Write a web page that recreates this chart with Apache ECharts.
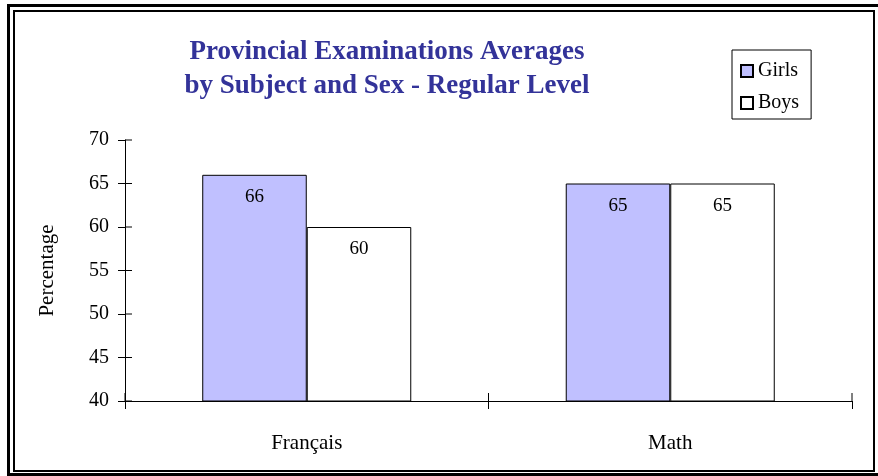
<!DOCTYPE html>
<html>
<head>
<meta charset="utf-8">
<script src="https://cdn.jsdelivr.net/npm/echarts@6/dist/echarts.min.js"></script>
<style>
html, body { margin: 0; padding: 0; background: #fff; }
#main { width: 878px; height: 476px; }
</style>
</head>
<body>
<div id="main"></div>
<script>
var categories = ['Français', 'Math'];
var girls = [66, 65];
var boys = [60, 65];
var yTicks = [40, 45, 50, 55, 60, 65, 70];

var serif = '"Liberation Serif", "Times New Roman", serif';

var chart = echarts.init(document.getElementById('main'));

var option = {
    animation: false,
    backgroundColor: '#fff',
    title: {
        text: 'Provincial Examinations Averages\nby Subject and Sex - Regular Level',
        left: 382,
        top: 30,
        textAlign: 'center',
        textStyle: {
            fontFamily: serif,
            fontSize: 27,
            fontWeight: 'bold',
            color: '#333399',
            lineHeight: 34
        }
    },
    legend: {
        data: ['Girls', 'Boys'],
        orient: 'vertical',
        left: 732,
        top: 50,
        padding: [11, 12, 6, 8],
        itemGap: 12,
        itemWidth: 12,
        itemHeight: 12,
        borderColor: '#000',
        borderWidth: 1,
        borderRadius: 0,
        icon: 'rect',
        textStyle: { fontFamily: serif, fontSize: 20, color: '#000', padding: [0, 0, 0, 0] }
    },
    grid: { left: 125, right: 26, top: 140, bottom: 75 },
    xAxis: {
        type: 'category',
        data: categories,
        axisLine: { lineStyle: { color: '#000', width: 1 } },
        axisTick: { show: true, length: 8, inside: false, lineStyle: { color: '#000' } },
        axisLabel: { fontFamily: serif, fontSize: 21, color: '#000', margin: 32 }
    },
    yAxis: {
        type: 'value',
        min: yTicks[0],
        max: yTicks[yTicks.length - 1],
        interval: 5,
        name: 'Percentage',
        nameLocation: 'middle',
        nameGap: 67,
        nameRotate: 90,
        nameTextStyle: { fontFamily: serif, fontSize: 21, color: '#000' },
        axisLine: { show: true, lineStyle: { color: '#000', width: 1 } },
        axisTick: { show: true, length: 7, lineStyle: { color: '#000' } },
        splitLine: { show: false },
        axisLabel: { fontFamily: serif, fontSize: 20, color: '#000', margin: 16 }
    },
    series: [
        {
            name: 'Girls',
            type: 'bar',
            data: girls,
            barGap: '0%',
            barCategoryGap: '42.5%',
            itemStyle: { color: '#c0c0ff', borderColor: '#000', borderWidth: 1 },
            label: {
                show: true, position: 'insideTop', distance: 13,
                fontFamily: serif, fontSize: 19, color: '#000'
            }
        },
        {
            name: 'Boys',
            type: 'bar',
            data: boys,
            itemStyle: { color: '#fff', borderColor: '#000', borderWidth: 1 },
            label: {
                show: true, position: 'insideTop', distance: 13,
                fontFamily: serif, fontSize: 19, color: '#000'
            }
        }
    ],
    graphic: [
        {
            type: 'rect',
            shape: { x: 8.5, y: 5.5, width: 880, height: 469 },
            style: { fill: 'none', stroke: '#000', lineWidth: 3 },
            silent: true
        },
        {
            type: 'rect',
            shape: { x: 14, y: 11, width: 860, height: 460 },
            style: { fill: 'none', stroke: '#000', lineWidth: 2 },
            silent: true
        }
    ]
};

chart.setOption(option);

// the tick on the y axis crosses the line in the original: draw the inner halves
var ticks = yTicks.map(function (v) {
    var p = chart.convertToPixel({ yAxisIndex: 0 }, v);
    return {
        type: 'line',
        shape: { x1: 125, y1: p, x2: 132, y2: p },
        style: { stroke: '#000', lineWidth: 1 },
        silent: true
    };
});
var xTicks = [0, 1, 2].map(function (i) {
    var x = 125 + i * (878 - 26 - 125) / 2;
    return {
        type: 'line',
        shape: { x1: x, y1: 401, x2: x, y2: 393 },
        style: { stroke: '#000', lineWidth: 1 },
        silent: true
    };
});
chart.setOption({ graphic: option.graphic.concat(ticks, xTicks) });
</script>
</body>
</html>
